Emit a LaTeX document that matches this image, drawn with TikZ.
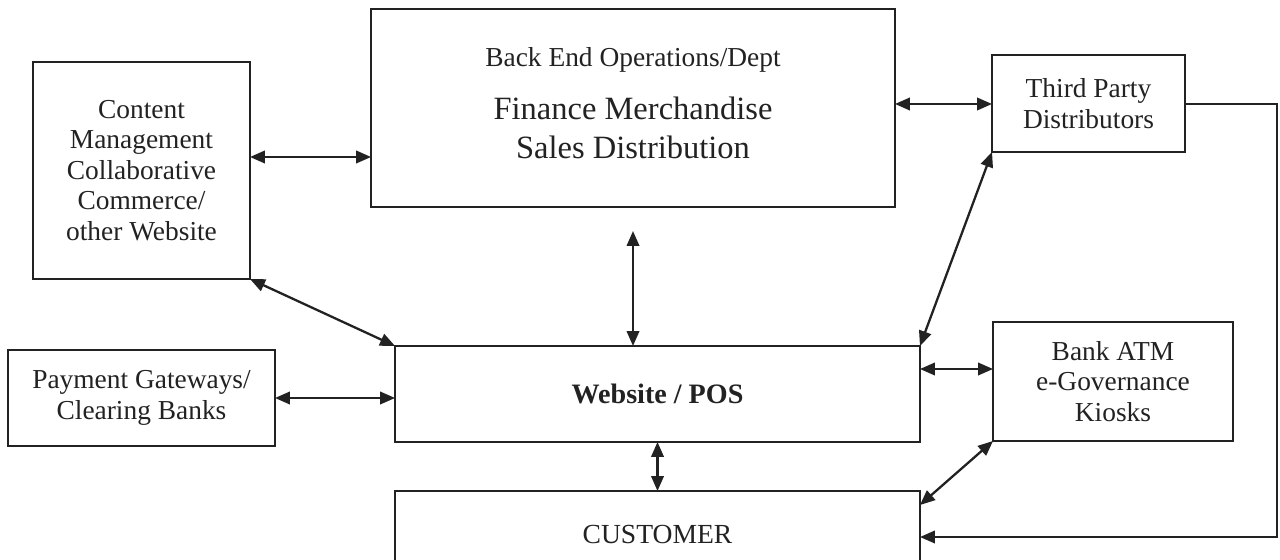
\documentclass[tikz,border=0pt]{standalone}
\usepackage{fontspec}
\setmainfont{Liberation Serif}
\usetikzlibrary{arrows.meta,calc}

\definecolor{ink}{HTML}{222222}

\tikzset{
  box/.style={draw=ink, line width=0.8pt, rectangle, inner sep=0pt, outer sep=0pt,
              align=center, text=ink, font=\fontsize{15.6}{17.4}\selectfont},
  lbl/.style={text=ink, inner sep=0pt, align=center},
  both/.style={draw=ink, line width=1.3pt, {Triangle[length=0.3cm,width=0.25cm]}-{Triangle[length=0.3cm,width=0.25cm]}},
  one/.style={draw=ink, line width=1.3pt, -{Triangle[length=0.3cm,width=0.25cm]}}
}

\begin{document}
\begin{tikzpicture}[x=0.02cm, y=-0.02cm]
  \useasboundingbox (0,0) rectangle (1280,560);
  \clip (0,0) rectangle (1280,560);
  \fill[white] (0,0) rectangle (1280,560);

  % boxes
  \node[box, minimum width=4.34cm, minimum height=4.34cm] (cms) at (141.5,170.5)
    {Content\\Management\\Collaborative\\Commerce/\\other Website};
  \node[box, minimum width=10.48cm, minimum height=3.96cm] (back) at (633,108) {};
  \node[lbl, anchor=base, font=\fontsize{15.6}{17}\selectfont] (backhead) at (633,67)
    {Back End Operations/Dept};
  \node[lbl, font=\fontsize{18.5}{22}\selectfont] (backbody) at (633,128)
    {Finance Merchandise\\Sales Distribution};
  \node[box, minimum width=3.86cm, minimum height=1.94cm] (third) at (1088.5,103.5)
    {Third Party\\Distributors};
  \node[box, minimum width=5.34cm, minimum height=1.92cm] (pay) at (141.5,398)
    {Payment Gateways/\\Clearing Banks};
  \node[box, minimum width=10.5cm, minimum height=1.92cm, font=\fontsize{16}{17}\selectfont\bfseries] (web) at (657.5,394)
    {Website / POS};
  \node[box, minimum width=4.8cm, minimum height=2.38cm] (bank) at (1113,381.5)
    {Bank ATM\\e-Governance\\Kiosks};
  \node[box, minimum width=10.5cm, minimum height=1.72cm, font=\fontsize{15.7}{18}\selectfont] (cust) at (657.5,534)
    {CUSTOMER};

  % free end points
  \coordinate (bwtop) at (633,231);
  \coordinate (loopNE) at (1277,104);
  \coordinate (loopSE) at (1277,537);

  % connectors
  \draw[both] (cms.east |- 0,157) -- (back.west |- 0,157);
  \draw[both] (back.east |- 0,104) -- (third.west |- 0,104);
  \draw[both] (bwtop) -- (bwtop |- web.north);
  \draw[both] (cms.south east) -- (web.north west);
  \draw[both] (pay.east) -- (web.west |- pay.east);
  \draw[both] (third.south west) -- (web.north east);
  \draw[both] (web.east |- 0,369) -- (bank.west |- 0,369);
  \draw[both] (web.south) -- (cust.north);
  \draw[both] (bank.south west) -- ($(cust.north east)+(0,14)$);
  \draw[one] (third.east |- loopNE) -- (loopNE) -- (loopSE) -- (cust.east |- loopSE);
\end{tikzpicture}
\end{document}
